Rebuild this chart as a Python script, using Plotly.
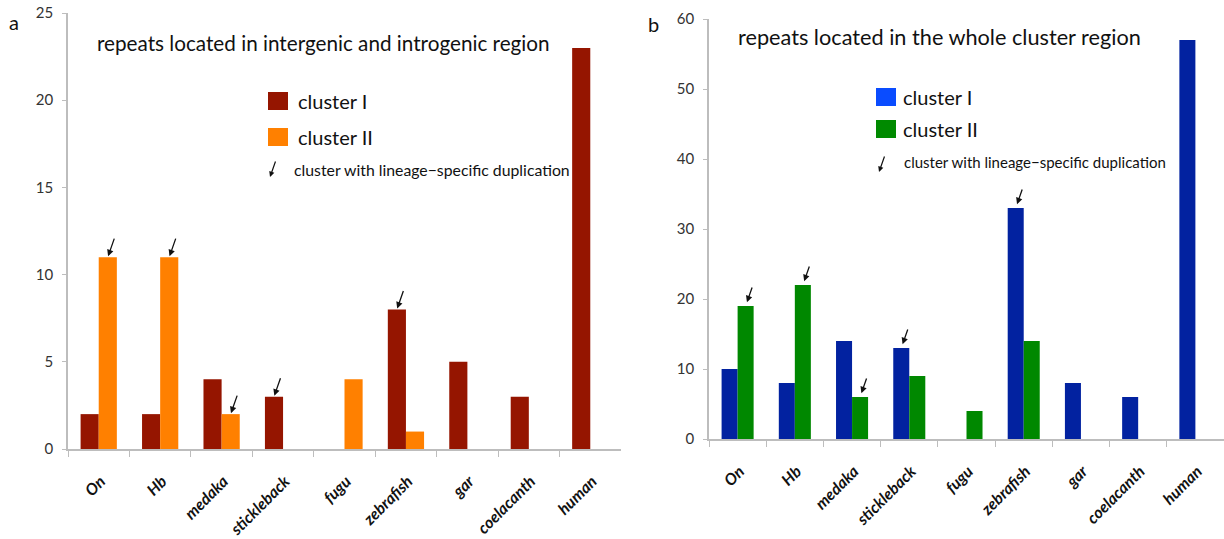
import plotly.graph_objects as go

# ---------------- data ----------------
species = ["On", "Hb", "medaka", "stickleback", "fugu", "zebrafish", "gar", "coelacanth", "human"]

a_cluster1 = [2, 2, 4, 3, 0, 8, 5, 3, 23]
a_cluster2 = [11, 11, 2, 0, 4, 1, 0, 0, 0]
b_cluster1 = [10, 8, 14, 13, 0, 33, 8, 6, 57]
b_cluster2 = [19, 22, 6, 9, 4, 14, 0, 0, 0]

# lineage-specific duplication arrows: (species, cluster)
a_arrows = [("On", 2), ("Hb", 2), ("medaka", 2), ("stickleback", 1), ("zebrafish", 1)]
b_arrows = [("On", 2), ("Hb", 2), ("medaka", 2), ("stickleback", 1), ("zebrafish", 1)]

a_ticks = [0, 5, 10, 15, 20, 25]
b_ticks = [0, 10, 20, 30, 40, 50, 60]

title_a = "repeats located in intergenic and introgenic region"
title_b = "repeats located in the whole cluster region"
legend_names = ["cluster I", "cluster II"]
dup_label = "cluster with lineage\u2212specific duplication"

# ---------------- style ----------------
W, H = 1224, 539
FONT = "Lato"
RED, ORANGE = "#951500", "#FF8000"
BLUE, GREEN = "#0222A0", "#008800"
BLUE_LEG, GREEN_LEG = "#0A4CFF", "#008A00"
AXC = "#BDBDBD"

wa = 0.295  # bar width panel a (category units)
wb = 0.28   # bar width panel b


def px(x):
    return x / W


def py(y):
    return 1 - y / H


fig = go.Figure()

fig.add_trace(go.Bar(x=species, y=a_cluster1, width=wa, offset=-wa, marker=dict(color=RED, line=dict(width=0)),
                     xaxis="x", yaxis="y", showlegend=False))
fig.add_trace(go.Bar(x=species, y=a_cluster2, width=wa, offset=0, marker=dict(color=ORANGE, line=dict(width=0)),
                     xaxis="x", yaxis="y", showlegend=False))
fig.add_trace(go.Bar(x=species, y=b_cluster1, width=wb, offset=-wb, marker=dict(color=BLUE, line=dict(width=0)),
                     xaxis="x2", yaxis="y2", showlegend=False))
fig.add_trace(go.Bar(x=species, y=b_cluster2, width=wb, offset=0, marker=dict(color=GREEN, line=dict(width=0)),
                     xaxis="x2", yaxis="y2", showlegend=False))

annotations = []


def add_arrows(arrows, c1, c2, w, xref, yref, standoff):
    for sp, cl in arrows:
        i = species.index(sp)
        val = c1[i] if cl == 1 else c2[i]
        xpos = i - w / 2 if cl == 1 else i + w / 2
        annotations.append(dict(x=xpos, y=val, xref=xref, yref=yref, text="", showarrow=True,
                                ax=7, ay=-20, arrowhead=2, arrowsize=1, arrowwidth=1.3,
                                arrowcolor="#111111", standoff=standoff))


add_arrows(a_arrows, a_cluster1, a_cluster2, wa, "x", "y", 1)
add_arrows(b_arrows, b_cluster1, b_cluster2, wb, "x2", "y2", 4)

annotations += [
    dict(x=px(14), y=py(22), xref="paper", yref="paper", text="a", showarrow=False,
         font=dict(family=FONT, size=20, color="#111"), xanchor="center", yanchor="middle"),
    dict(x=px(653), y=py(24), xref="paper", yref="paper", text="b", showarrow=False,
         font=dict(family=FONT, size=20, color="#111"), xanchor="center", yanchor="middle"),
    dict(x=px(95), y=py(43), xref="paper", yref="paper", text=title_a, showarrow=False,
         font=dict(family=FONT, size=20.7, color="#111"), xanchor="left", yanchor="middle"),
    dict(x=px(736), y=py(37), xref="paper", yref="paper", text=title_b, showarrow=False,
         font=dict(family=FONT, size=21.7, color="#111"), xanchor="left", yanchor="middle"),
]

shapes = []


def add_legend(sq_x, sq_y1, sq_y2, colors, text_x, dup_tip, dup_text_y, dup_text_x, dup_size):
    for (yy, col, name) in zip((sq_y1, sq_y2), colors, legend_names):
        shapes.append(dict(type="rect", xref="paper", yref="paper",
                           x0=px(sq_x), x1=px(sq_x + 20), y0=py(yy + 9), y1=py(yy - 9),
                           fillcolor=col, line=dict(width=0)))
        annotations.append(dict(x=px(text_x), y=py(yy), xref="paper", yref="paper", text=name,
                                showarrow=False, xanchor="left", yanchor="middle",
                                font=dict(family=FONT, size=20, color="#111")))
    annotations.append(dict(x=px(dup_tip[0]), y=py(dup_tip[1]), xref="paper", yref="paper", text="",
                            showarrow=True, ax=6, ay=-17, arrowhead=2, arrowsize=0.9, arrowwidth=1.2,
                            arrowcolor="#111"))
    annotations.append(dict(x=px(dup_text_x), y=py(dup_text_y), xref="paper", yref="paper", text=dup_label,
                            showarrow=False, xanchor="left", yanchor="middle",
                            font=dict(family=FONT, size=dup_size, color="#111")))


add_legend(268, 101, 137, (RED, ORANGE), 296, (270, 177), 170, 292, 15.8)
add_legend(876, 97, 129, (BLUE_LEG, GREEN_LEG), 901, (879, 172), 162, 902, 15)

xaxis_common = dict(type="category", tickson="boundaries", ticks="outside", ticklen=6, tickcolor=AXC,
                    showline=True, linecolor=AXC, linewidth=1.5, showgrid=False, zeroline=False,
                    tickangle=-45, range=[-0.5, 8.5], automargin=False,
                    ticklabelstandoff=15, ticklabelshift=2,
                    tickfont=dict(family=FONT, size=16, color="#111", weight="bold", style="italic"))
yaxis_common = dict(ticks="outside", ticklen=4, tickcolor=AXC, showline=True, linecolor=AXC, linewidth=1.5,
                    showgrid=False, zeroline=False, ticklabelstandoff=6, automargin=False,
                    tickfont=dict(family=FONT, size=15, color="#333"))

fig.update_layout(
    width=W, height=H,
    margin=dict(l=0, r=0, t=0, b=0, autoexpand=False),
    paper_bgcolor="white", plot_bgcolor="white",
    barmode="overlay",
    xaxis=dict(domain=[px(68), px(621)], anchor="y", **xaxis_common),
    yaxis=dict(domain=[py(449), py(13)], anchor="x", range=[0, 25], tickvals=a_ticks, **yaxis_common),
    xaxis2=dict(domain=[px(709), px(1224)], anchor="y2", **xaxis_common),
    yaxis2=dict(domain=[py(439), py(19)], anchor="x2", range=[0, 60], tickvals=b_ticks, **yaxis_common),
    annotations=annotations,
    shapes=shapes,
)

fig.write_html("out.html", config={"displayModeBar": False},
               post_script="document.body.style.margin='0';document.body.style.overflow='hidden';")
